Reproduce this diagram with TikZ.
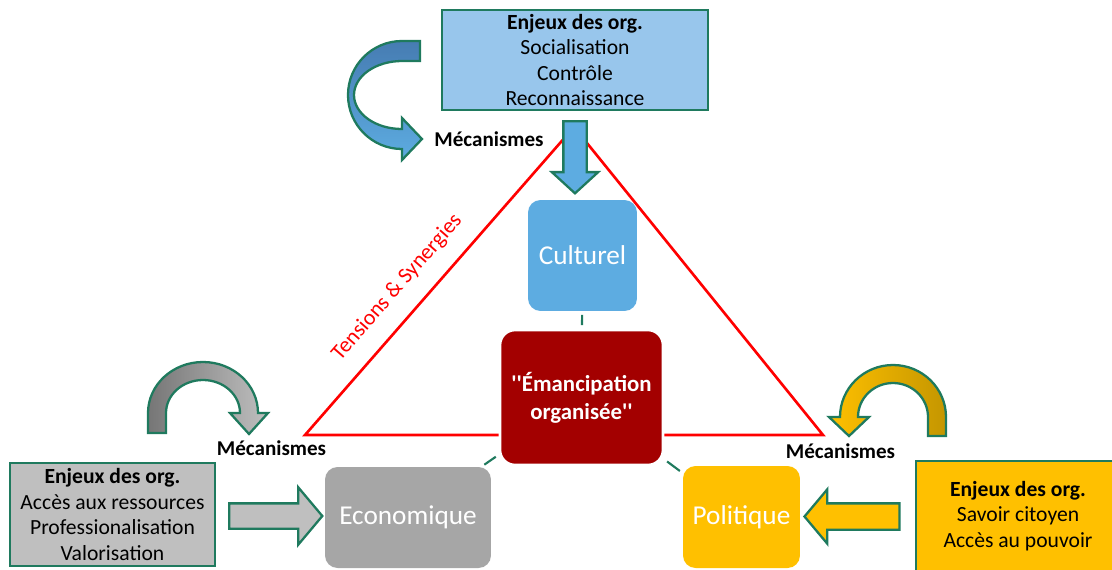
\documentclass[tikz,border=0pt]{standalone}
\usepackage{fontspec}
\setmainfont{Carlito}
\usetikzlibrary{shapes.arrows,calc}

\definecolor{vert}{RGB}{31,122,94}
\definecolor{bleuclair}{RGB}{152,198,236}
\definecolor{bleu}{RGB}{93,172,225}
\definecolor{bleufonce}{RGB}{70,124,178}
\definecolor{bordeaux}{RGB}{163,0,0}
\definecolor{gris}{RGB}{166,166,166}
\definecolor{grisclair}{RGB}{191,191,191}
\definecolor{grisfonce}{RGB}{118,118,118}
\definecolor{or}{RGB}{255,192,0}
\definecolor{ordonce}{RGB}{196,150,0}

\begin{document}
\begin{tikzpicture}[x=0.02cm, y=0.02cm,
    enjeu/.style={rectangle, draw=vert, line width=1.6pt, align=center, inner sep=1pt,
      font=\fontsize{12.3}{14.6}\selectfont},
    pole/.style={rectangle, rounded corners=0.25cm, text=white, align=center,
      font=\fontsize{15.5}{18}\selectfont},
    meca/.style={font=\bfseries\fontsize{12}{14}\selectfont},
    fleche/.style={single arrow, draw=vert, line width=1.3pt},
    courbe/.style={draw=vert, line width=1.3pt},
    lien/.style={draw=vert, line width=1.2pt, shorten <=0.07cm, shorten >=0.07cm}]

    \clip (0,0) rectangle (1112,-569);

    % 三角形
    \draw[red, line width=1.5pt] (305,-435) -- node[sloped, pos=0.42, above=0.22cm,
      font=\fontsize{12.5}{15}\selectfont] (tens) {Tensions \& Synergies}
      (574,-127) -- (823,-435) -- cycle;

    % 枠
    \node[enjeu, fill=bleuclair, minimum width=5.32cm, minimum height=2cm] (encH) at (575,-60)
      {\textbf{Enjeux des org.}\\Socialisation\\Contrôle\\Reconnaissance};
    \node[enjeu, fill=grisclair, minimum width=4.1cm, minimum height=2.06cm] (encG) at (112.5,-514.5)
      {\textbf{Enjeux des org.}\\Accès aux ressources\\Professionalisation\\Valorisation};
    \node[enjeu, fill=or, minimum width=4.08cm, minimum height=2.2cm] (encD) at (1018,-516)
      {\textbf{Enjeux des org.}\\Savoir citoyen\\Accès au pouvoir};

    \node[pole, fill=bleu, minimum width=2.18cm, minimum height=2.22cm] (cul) at (582.5,-255.5) {Culturel};
    \node[pole, fill=bordeaux, draw=white, line width=1.5pt, rounded corners=0.3cm,
      minimum width=3.26cm, minimum height=2.7cm, font=\bfseries\fontsize{13}{16}\selectfont]
      (emc) at (581.5,-397.5)
      {\textquotesingle\textquotesingle Émancipation\\organisée\textquotesingle\textquotesingle};
    \node[pole, fill=gris, minimum width=3.32cm, minimum height=2.02cm] (eco) at (408,-517.5) {Economique};
    \node[pole, fill=or, minimum width=2.34cm, minimum height=2.04cm] (pol) at (741.5,-517) {Politique};

    \node[meca] (mecH) at (489,-139) {Mécanismes};
    \node[meca] (mecG) at (271.5,-448) {Mécanismes};
    \node[meca] (mecD) at (840.5,-451) {Mécanismes};

    % 矢印
    \node[fleche, fill=bleu, shape border rotate=270, inner sep=0.21cm, minimum height=1.44cm,
      single arrow head extend=0.23cm, single arrow tip angle=95] (flH) at (575,-152) {};
    \node[fleche, fill=grisclair, inner sep=0.23cm, minimum height=1.86cm,
      single arrow head extend=0.32cm, single arrow tip angle=100]
      (flG) at ($(encG.east)!0.5!(eco.west)$) {};
    \node[fleche, fill=or, shape border rotate=180, inner sep=0.24cm, minimum height=1.9cm,
      single arrow head extend=0.28cm, single arrow tip angle=100]
      (flD) at ($(encD.west)!0.5!(pol.east)$) {};

    \draw[courbe, top color=bleufonce, bottom color=bleu] (420,-41) -- (402,-41)
      arc[start angle=90, end angle=270, x radius=54, y radius=54]
      -- (402,-160) -- (422,-139) -- (402,-118) -- (402,-129)
      arc[start angle=270, end angle=90, x radius=48, y radius=34] -- (420,-61) -- cycle;
    \draw[courbe, left color=grisfonce, right color=grisclair] (148,-433) -- (148,-413)
      arc[start angle=180, end angle=0, x radius=55, y radius=51]
      -- (268,-413) -- (249,-434) -- (230,-413) -- (240,-413)
      arc[start angle=0, end angle=180, x radius=37, y radius=33] -- (166,-433) -- cycle;
    \draw[courbe, left color=or, right color=ordonce] (946,-436) -- (946,-417)
      arc[start angle=0, end angle=180, x radius=53, y radius=52]
      -- (829,-417) -- (849,-436) -- (869,-417) -- (858,-417)
      arc[start angle=180, end angle=0, x radius=35, y radius=34] -- (928,-436) -- cycle;

    % 線を結ぶ
    \draw[lien] (emc) -- (cul);
    \draw[lien] (emc) -- (eco);
    \draw[lien] (emc) -- (pol);

\end{tikzpicture}
\end{document}
